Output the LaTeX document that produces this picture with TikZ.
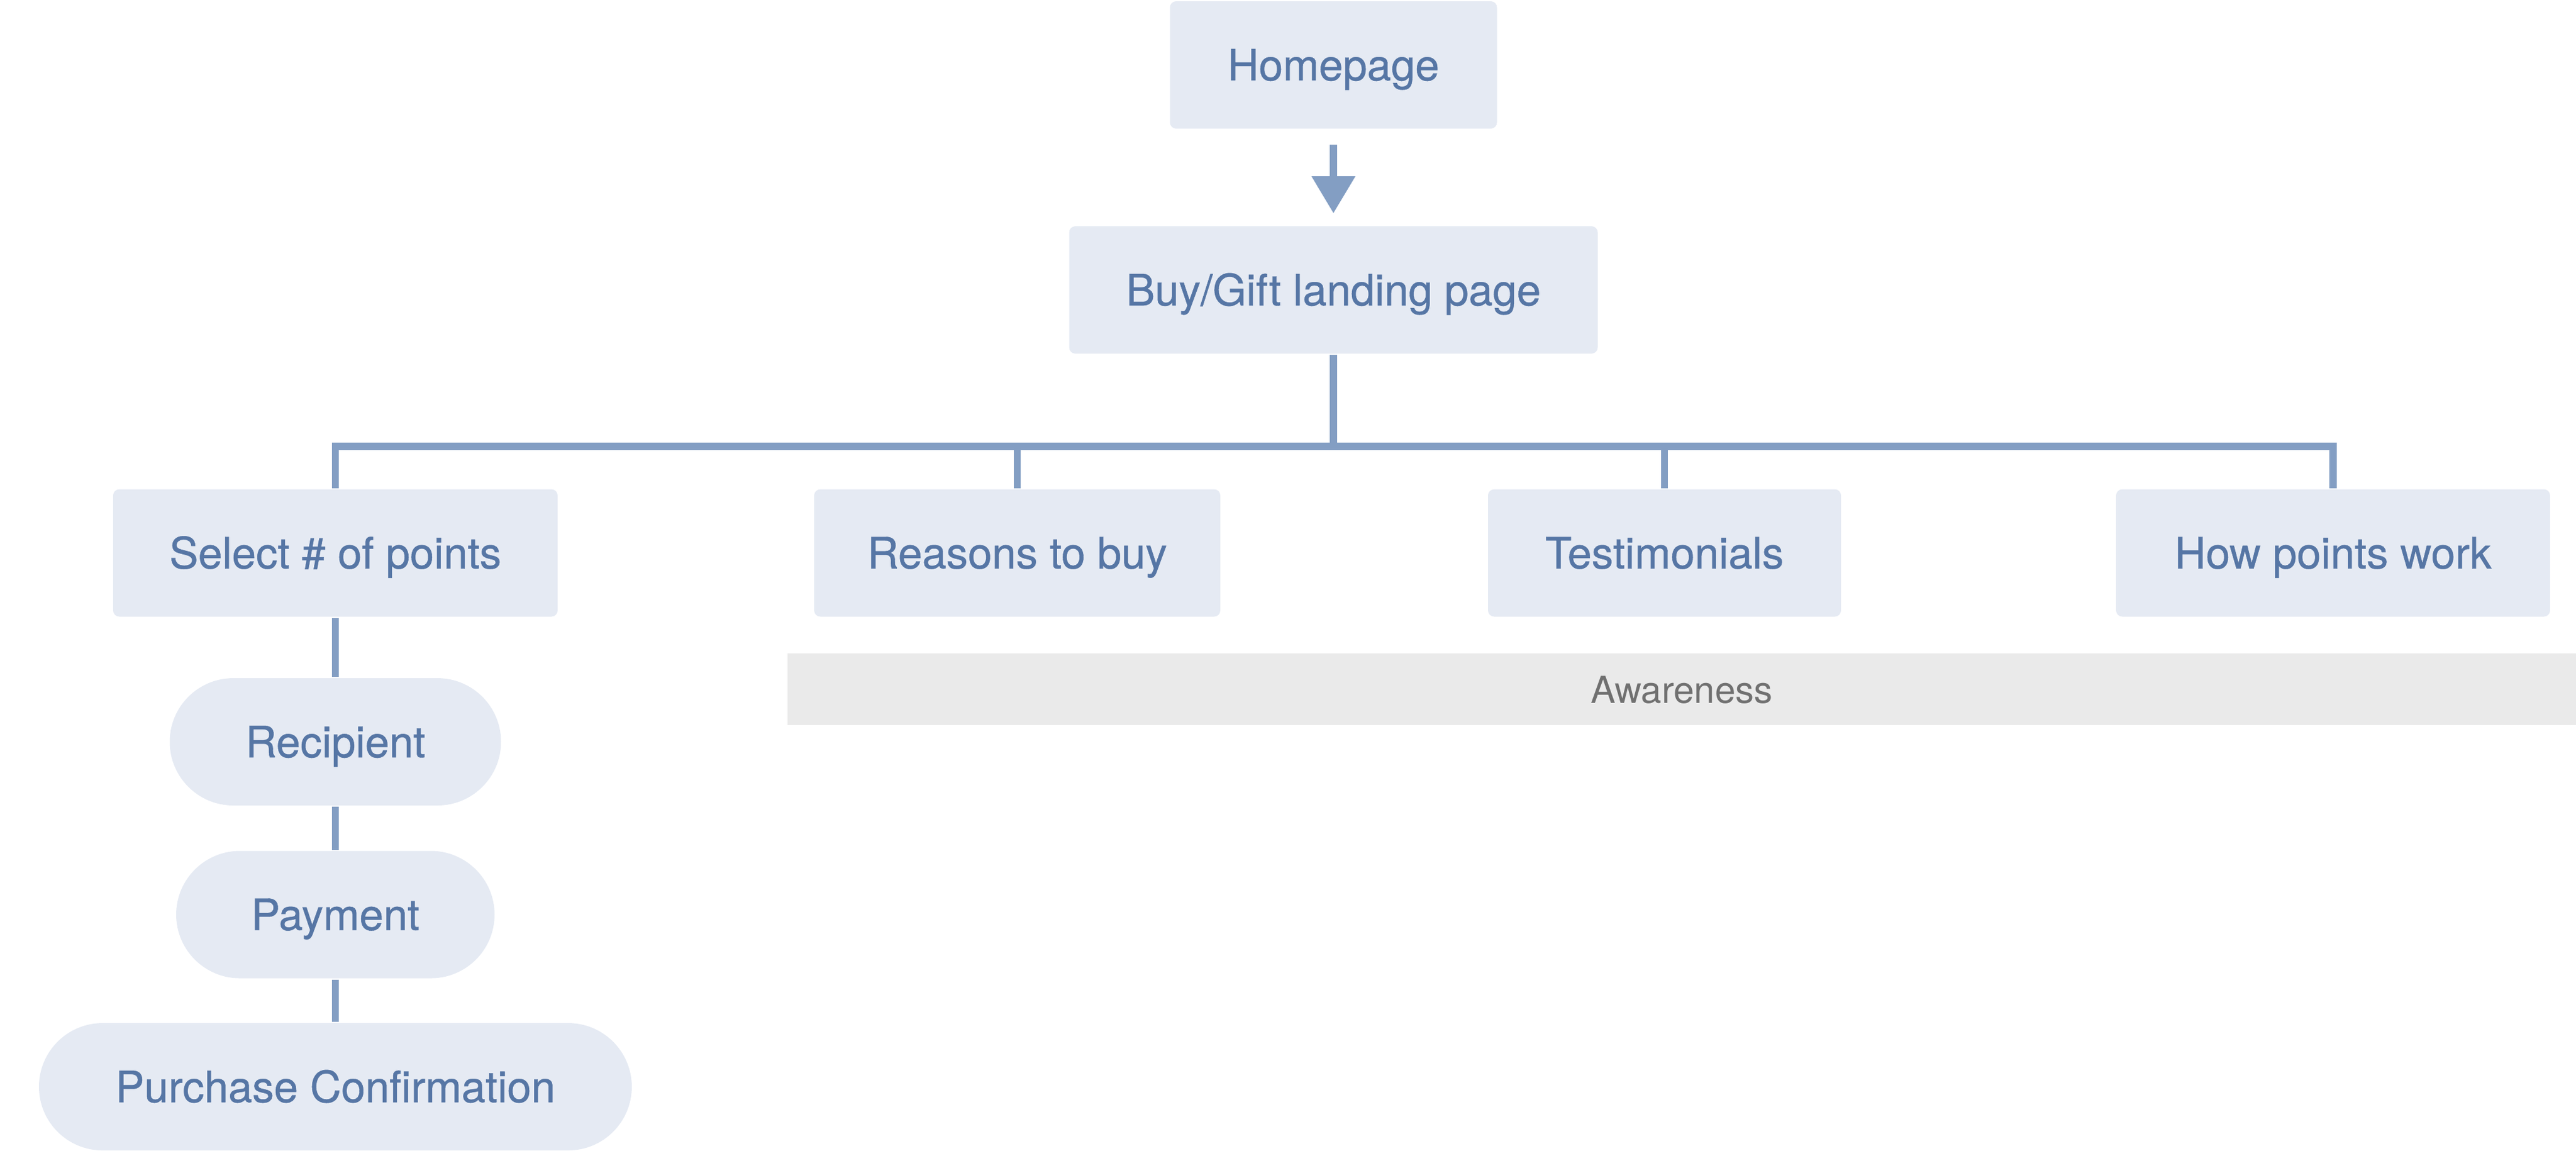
\documentclass[tikz,border=0pt]{standalone}
\usepackage{fontspec}
\setmainfont{TeX Gyre Heros}
\newfontfamily\boxfont{TeX Gyre Heros}[FakeBold=0.6]
\usetikzlibrary{arrows.meta}

\newlength{\du}
\setlength{\du}{0.1pt}

\definecolor{boxfill}{HTML}{E5EAF3}
\definecolor{boxtext}{HTML}{5676A5}
\definecolor{linkcolor}{HTML}{839EC3}
\definecolor{bandfill}{HTML}{EAEAEA}
\definecolor{bandtext}{HTML}{707070}

\tikzset{
  pagebox/.style={rectangle, fill=boxfill, text=boxtext, rounded corners=10\du,
    minimum height=206\du, inner sep=0pt, text height=5pt, text depth=0pt,
    font=\boxfont\fontsize{7}{8}\selectfont},
  stepbox/.style={pagebox, rounded corners=103\du},
  link/.style={draw=linkcolor, line width=11.5\du, line cap=butt, line join=miter},
  flow/.style={link, -{Triangle[width=6.8pt, length=6pt]}},
  stageband/.style={rectangle, fill=bandfill, text=bandtext, inner sep=0pt,
    text height=4.4pt, text depth=0pt, font=\fontsize{6}{7}\selectfont}
}

\begin{document}
\begin{tikzpicture}
\pgftransformxscale{1.000000}
\pgftransformyscale{-1.000000}
\useasboundingbox (0\du,0\du) rectangle (4167\du,1861\du);
% top of the tree
\node[pagebox, minimum width=529\du] (home) at (2157\du,105\du) {Homepage};
\node[pagebox, minimum width=855\du] (landing) at (2157\du,469\du) {Buy/Gift landing page};
% second level
\node[pagebox, minimum width=719\du] (select) at (542.5\du,894.5\du) {Select \# of points};
\node[pagebox, minimum width=657\du] (reasons) at (1645.5\du,894.5\du) {Reasons to buy};
\node[pagebox, minimum width=571\du] (testimonials) at (2692.5\du,894.5\du) {Testimonials};
\node[pagebox, minimum width=702\du] (howwork) at (3774\du,894.5\du) {How points work};
% purchase steps
\node[stepbox, minimum width=536\du] (recipient) at (542.5\du,1200\du) {Recipient};
\node[stepbox, minimum width=515\du] (payment) at (542.5\du,1479.5\du) {Payment};
\node[stepbox, minimum width=959\du] (confirm) at (542.5\du,1758\du) {Purchase Confirmation};
% stage band
\node[stageband, minimum width=2893\du, minimum height=116\du] (awareness) at (2720.5\du,1115\du) {Awareness};
\coordinate (bus) at (2157\du,722\du);
\draw[flow, shorten <=2.4pt, shorten >=1.9pt] (home) -- (landing);
\draw[link] (landing.south) -- (bus);
\draw[link] (select.north) |- (bus) -| (howwork.north);
\draw[link] (reasons.north) -- (reasons.north |- bus);
\draw[link] (testimonials.north) -- (testimonials.north |- bus);
\draw[link] (select) -- (recipient) -- (payment) -- (confirm);
\end{tikzpicture}
\end{document}
